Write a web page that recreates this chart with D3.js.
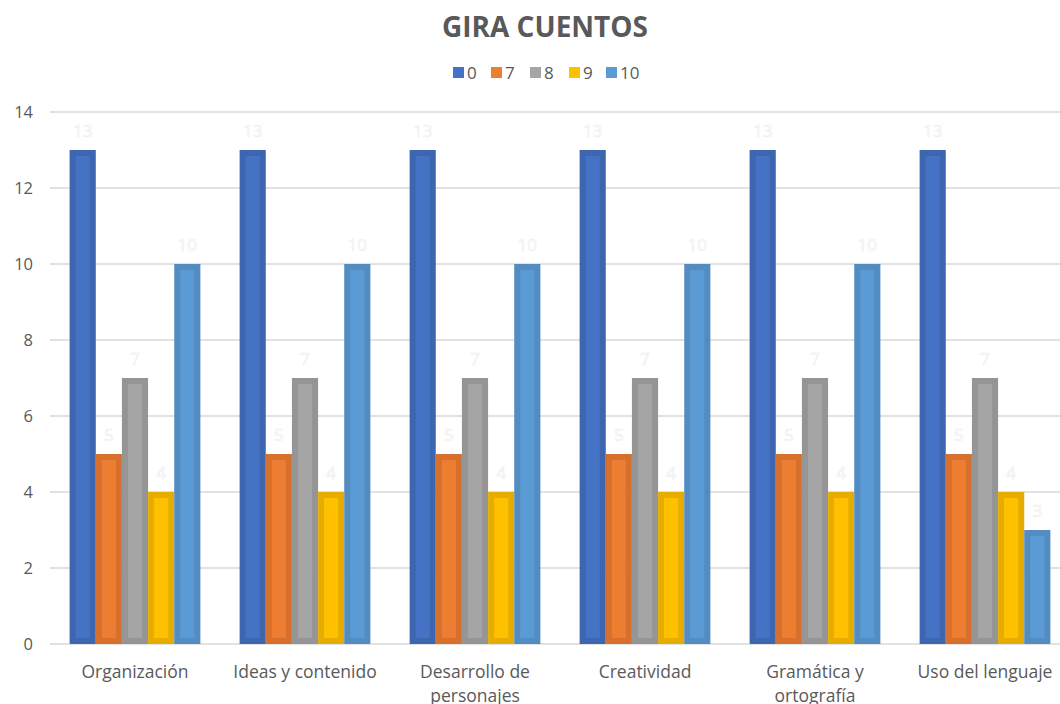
<!DOCTYPE html>
<html>
<head>
<meta charset="utf-8">
<script src="https://cdn.jsdelivr.net/npm/d3@7"></script>
<style>
  html, body { margin: 0; padding: 0; background: #fff; }
  svg { display: block; font-family: "Open Sans", "Noto Sans", sans-serif; }
</style>
</head>
<body>
<svg id="chart" width="1060" height="704"></svg>
<script>
const title = "GIRA CUENTOS";
const categories = ["Organización", "Ideas y contenido", "Desarrollo de personajes", "Creatividad", "Gramática y ortografía", "Uso del lenguaje"];
const seriesNames = ["0", "7", "8", "9", "10"];
const s0 = [13, 13, 13, 13, 13, 13];
const s7 = [5, 5, 5, 5, 5, 5];
const s8 = [7, 7, 7, 7, 7, 7];
const s9 = [4, 4, 4, 4, 4, 4];
const s10 = [10, 10, 10, 10, 10, 3];
const yTicks = [0, 2, 4, 6, 8, 10, 12, 14];

const fills = ["#4472c4", "#ed7d31", "#a5a5a5", "#ffc000", "#5b9bd5"];
const borders = ["#3e66b0", "#d6702c", "#959595", "#e6ad00", "#528cc0"];
const seriesVals = [s0, s7, s8, s9, s10];

const svg = d3.select("#chart");
const margin = { left: 50, right: 1070, top: 112, bottom: 644 };

const x0 = d3.scaleBand().domain(categories).range([margin.left, margin.right]).paddingInner(0).paddingOuter(0);
const x1 = d3.scaleBand().domain(seriesNames).range([0, x0.bandwidth()]).paddingOuter(0.75).paddingInner(0);
const y = d3.scaleLinear().domain([0, 14]).range([margin.bottom, margin.top]);

// gridlines
svg.append("g").selectAll("line").data(yTicks).join("line")
  .attr("x1", margin.left).attr("x2", 1060)
  .attr("y1", d => y(d)).attr("y2", d => y(d))
  .attr("stroke", "#d9d9d9").attr("stroke-width", 1.3);

// y axis labels
const yAxis = d3.axisLeft(y).tickValues(yTicks).tickSize(0).tickPadding(0);
const yg = svg.append("g").attr("transform", "translate(33,0)").call(yAxis);
yg.select(".domain").remove();
yg.selectAll("text").attr("fill", "#595959").style("font-size", "16.5px").style("font-family", "'Open Sans', sans-serif");

// bars
const groups = svg.append("g").selectAll("g").data(categories).join("g")
  .attr("transform", d => `translate(${x0(d)},0)`);
const inset = 6;
seriesNames.forEach((s, si) => {
  const vals = seriesVals[si];
  groups.append("rect")
    .attr("x", x1(s)).attr("width", x1.bandwidth())
    .attr("y", (d, i) => y(vals[i])).attr("height", (d, i) => y(0) - y(vals[i]))
    .attr("fill", borders[si]);
  groups.append("rect")
    .attr("x", x1(s) + inset).attr("width", x1.bandwidth() - 2 * inset)
    .attr("y", (d, i) => y(vals[i]) + inset).attr("height", (d, i) => Math.max(0, y(0) - y(vals[i]) - 2 * inset))
    .attr("fill", fills[si]);
  groups.append("text")
    .attr("x", x1(s) + x1.bandwidth() / 2)
    .attr("y", (d, i) => y(vals[i]) - 13)
    .attr("text-anchor", "middle")
    .attr("fill", "#fbfbfb").attr("stroke", "#ededed").attr("stroke-width", 0.5)
    .style("font-size", "17px")
    .text((d, i) => vals[i]);
});

// category labels with wrapping
const maxW = 160;
const fs = "17.5px";
const cg = svg.append("g");
categories.forEach(c => {
  const t = cg.append("text").attr("text-anchor", "middle")
    .attr("fill", "#595959").style("font-size", fs);
  const words = c.split(" ");
  let lines = [], line = [];
  const probe = cg.append("text").style("font-size", fs);
  words.forEach(w => {
    const test = line.concat(w).join(" ");
    probe.text(test);
    if (probe.node().getComputedTextLength() > maxW && line.length) {
      lines.push(line.join(" "));
      line = [w];
    } else line.push(w);
  });
  lines.push(line.join(" "));
  probe.remove();
  lines.forEach((l, li) => {
    t.append("tspan").attr("x", x0(c) + x0.bandwidth() / 2).attr("y", 678 + li * 24).text(l);
  });
});

// title
svg.append("text").attr("x", 545).attr("y", 37).attr("text-anchor", "middle")
  .attr("fill", "#595959").style("font-size", "28px").style("font-weight", "bold")
  .text(title);

// legend
const legX = [453, 491, 530, 569, 606];
const lg = svg.append("g");
seriesNames.forEach((s, i) => {
  lg.append("rect").attr("x", legX[i]).attr("y", 67).attr("width", 11).attr("height", 11).attr("fill", fills[i]);
  lg.append("text").attr("x", legX[i] + 14).attr("y", 79).attr("fill", "#595959").style("font-size", "17px").text(s);
});
</script>
</body>
</html>
